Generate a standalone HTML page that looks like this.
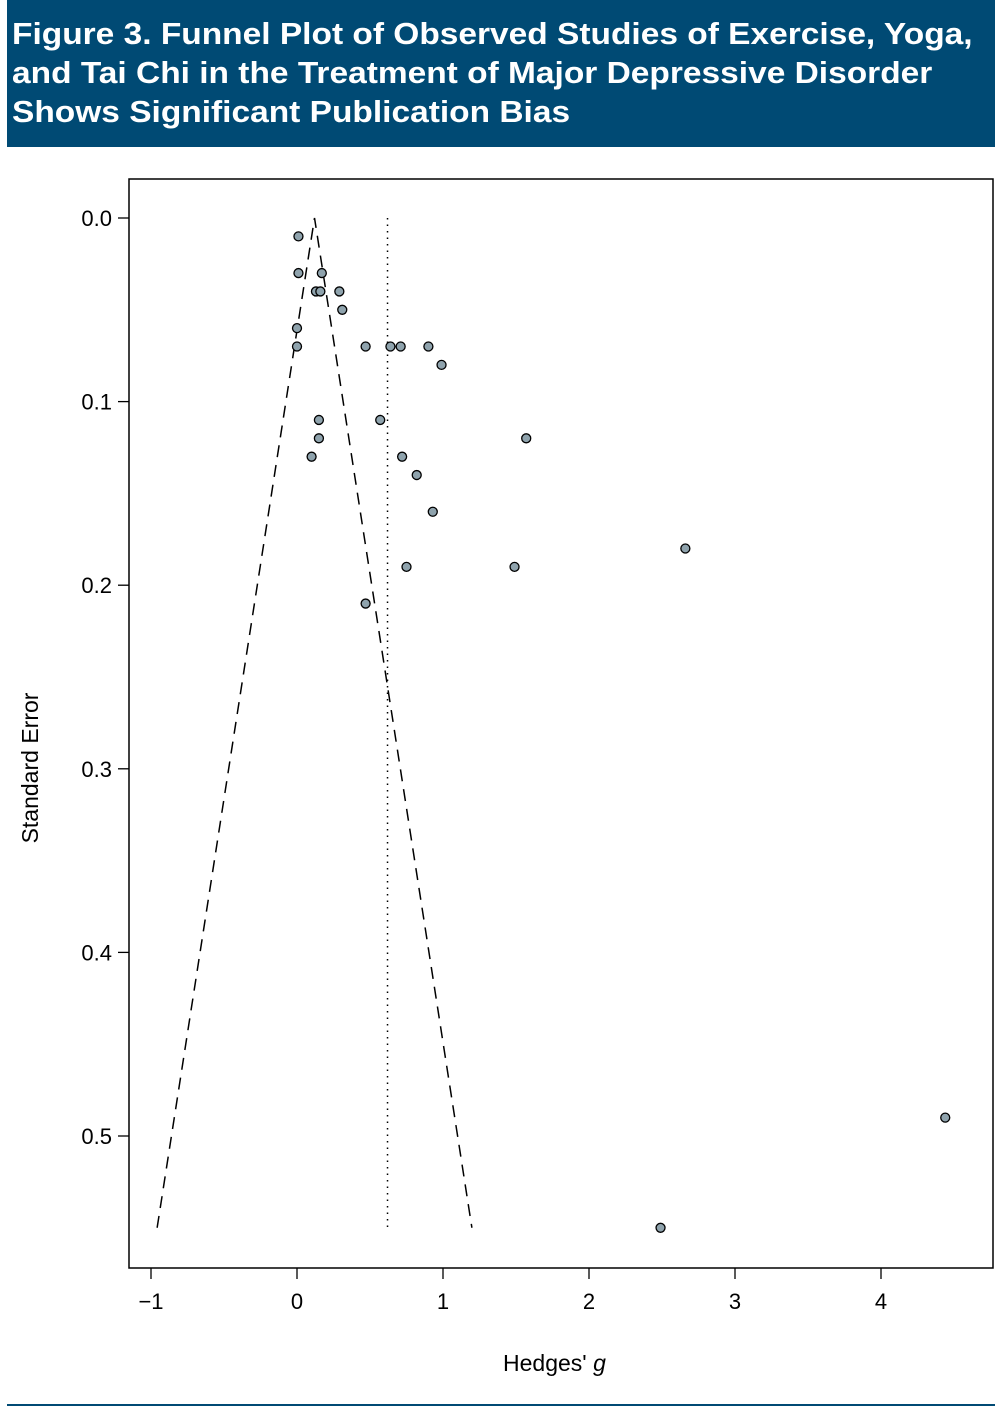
<!DOCTYPE html>
<html><head><meta charset="utf-8"><style>
body{margin:0;background:#fff;width:1004px;height:1415px;overflow:hidden;font-family:"Liberation Sans",sans-serif}
#banner{position:absolute;left:7px;top:0;width:988px;height:147px;background:#004a74;}
#banner div{position:absolute;left:5px;top:14px;color:#fff;font-weight:bold;font-size:31px;line-height:39px;white-space:nowrap;transform:scaleX(1.08);transform-origin:0 0}
#rule{position:absolute;left:7px;top:1404px;width:988px;height:2px;background:#004a74}
</style></head><body>
<div id="banner"><div>Figure 3. Funnel Plot of Observed Studies of Exercise, Yoga,<br>and Tai Chi in the Treatment of Major Depressive Disorder<br>Shows Significant Publication Bias</div></div>
<svg id="chart" width="1004" height="1415" style="position:absolute;left:0;top:0"></svg>
<div id="rule"></div>
<script>
const xTicks=[-1,0,1,2,3,4];
const yTicks=[0.0,0.1,0.2,0.3,0.4,0.5];
const yTickLabels=["0.0","0.1","0.2","0.3","0.4","0.5"];
const hedgesG=[0.01,0.01,0.17,0.13,0.16,0.29,0.31,0,0,0.47,0.64,0.71,0.9,0.99,0.15,0.57,0.15,1.57,0.1,0.72,0.82,0.93,2.66,0.75,1.49,0.47,4.44,2.49];
const stdErr=[0.01,0.03,0.03,0.04,0.04,0.04,0.05,0.06,0.07,0.07,0.07,0.07,0.07,0.08,0.11,0.11,0.12,0.12,0.13,0.13,0.14,0.16,0.18,0.19,0.19,0.21,0.49,0.55];
const funnelCenter=[0.12];
const pooledEffect=[0.62];
const seMax=[0.55];
const ns="http://www.w3.org/2000/svg";
const svg=document.getElementById('chart');
const X=v=>297+v*146;
const Y=v=>218+v*1836;
function mk(t,a,p){const e=document.createElementNS(ns,t);for(const k in a)e.setAttribute(k,a[k]);(p||svg).appendChild(e);return e;}
const box=mk('rect',{x:129,y:179,width:864,height:1089,fill:'none',stroke:'#000','stroke-width':1.5});


xTicks.forEach(t=>{
 const l=mk('line',{x1:X(t),x2:X(t),y1:1268,y2:1279,stroke:'#000','stroke-width':1.3});
 
 
 const tx=mk('text',{x:X(t),y:1309,'text-anchor':'middle','font-size':22,fill:'#000'});
 tx.textContent=t<0?'\u2212'+Math.abs(t):String(t);
 
 
});
yTicks.forEach((t,i)=>{
 const l=mk('line',{x1:118,x2:129,y1:Y(t),y2:Y(t),stroke:'#000','stroke-width':1.3});
 
 
 const tx=mk('text',{x:112,y:Y(t)+8,'text-anchor':'end','font-size':22,fill:'#000'});
 tx.textContent=yTickLabels[i];
 
 
});
const c=funnelCenter[0],m=seMax[0];
const fl=mk('polyline',{points:`${X(c-1.96*m)},${Y(m)} ${X(c)},${Y(0)} ${X(c+1.96*m)},${Y(m)}`,fill:'none',stroke:'#000','stroke-width':1.5,'stroke-dasharray':'12,8'});


const pl=mk('line',{x1:X(pooledEffect[0]),x2:X(pooledEffect[0]),y1:Y(0),y2:Y(m),stroke:'#000','stroke-width':1.5,'stroke-dasharray':'1.5,5'});


hedgesG.forEach((g,i)=>{
 const p=mk('circle',{cx:X(g),cy:Y(stdErr[i]),r:4.5,fill:'#8fa3ad',stroke:'#000','stroke-width':1.3});
 
 
});
const xt=mk('text',{x:503,y:1371,'font-size':23,fill:'#000'});
xt.innerHTML="Hedges' <tspan font-style='italic'>g</tspan>";


const yt=mk('text',{x:0,y:0,'font-size':23,fill:'#000','text-anchor':'middle',transform:'translate(38,768) rotate(-90)'});
yt.textContent='Standard Error';


</script>
</body></html>
